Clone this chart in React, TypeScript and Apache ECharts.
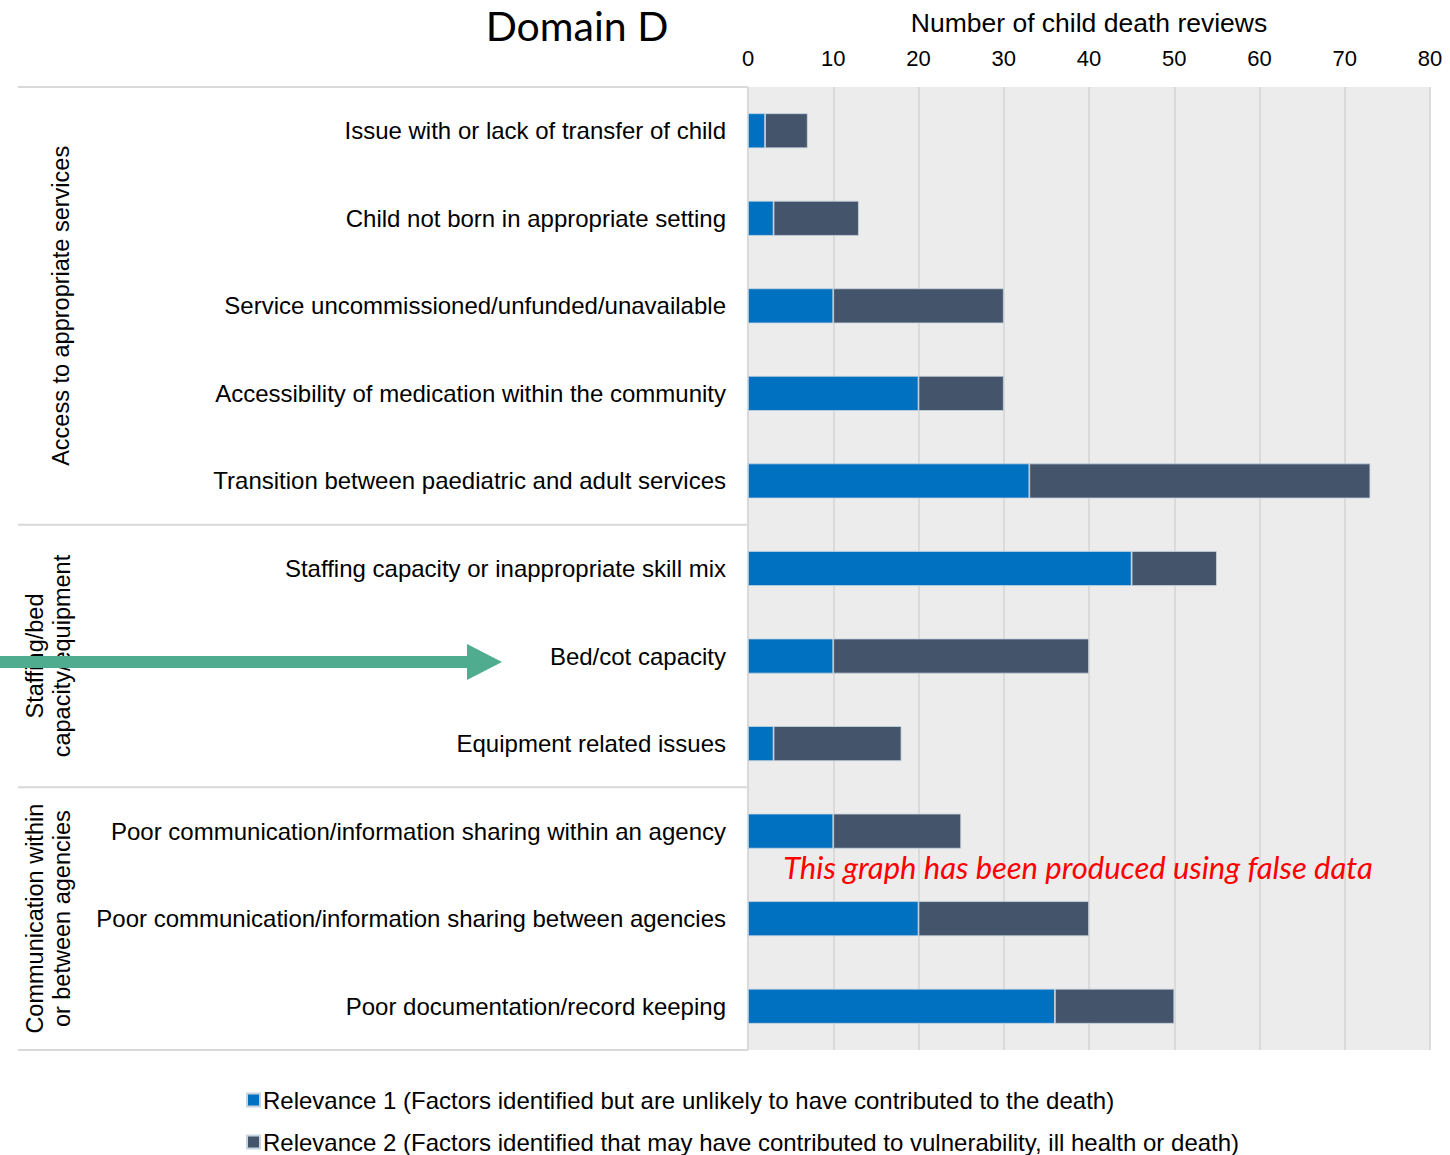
import React, { useEffect, useRef } from "react";
import * as echarts from "echarts";

const categories = [
  "Issue with or lack of transfer of child",
  "Child not born in appropriate setting",
  "Service uncommissioned/unfunded/unavailable",
  "Accessibility of medication within the community",
  "Transition between paediatric and adult services",
  "Staffing capacity or inappropriate skill mix",
  "Bed/cot capacity",
  "Equipment related issues",
  "Poor communication/information sharing within an agency",
  "Poor communication/information sharing between agencies",
  "Poor documentation/record keeping",
];
const relevance1 = [2, 3, 10, 20, 33, 45, 10, 3, 10, 20, 36];
const relevance2 = [5, 10, 20, 10, 40, 10, 30, 15, 15, 20, 14];
const seriesNames = [
  "Relevance 1 (Factors identified but are unlikely to have contributed to the death)",
  "Relevance 2 (Factors identified that may have contributed to vulnerability, ill health or death)",
];
const groups = [
  { label: "Access to appropriate services", start: 0, end: 5 },
  { label: "Staffing/bed\ncapacity/equipment", start: 5, end: 8 },
  { label: "Communication within\nor between agencies", start: 8, end: 11 },
];

export default function App() {
  const ref = useRef<HTMLDivElement>(null);
  useEffect(() => {
    if (!ref.current) return;
    const chart = echarts.init(ref.current, null, { renderer: "svg" });
    const top = 87;
    const bottom = 1050;
    const band = (bottom - top) / categories.length;
    const sans = '"Liberation Sans", Arial, sans-serif';
    const graphics: any[] = [];
    [0, 5, 8, 11].forEach((i) => {
      const y = top + i * band;
      graphics.push({
        type: "line",
        shape: { x1: 18, y1: y, x2: 748, y2: y },
        style: { stroke: "#d9d9d9", lineWidth: 2 },
        z: 1,
      });
    });
    graphics.push({
      type: "line",
      shape: { x1: 748, y1: top, x2: 748, y2: bottom },
      style: { stroke: "#d9d9d9", lineWidth: 1.5 },
      z: 1,
    });
    groups.forEach((g) => {
      const cy = top + ((g.start + g.end) / 2) * band;
      const twoLine = g.label.includes("\n");
      graphics.push({
        type: "text",
        x: twoLine ? 48 : 61,
        y: cy,
        rotation: Math.PI / 2,
        style: {
          text: g.label,
          font: "23.5px " + sans,
          fill: "#000",
          align: "center",
          verticalAlign: "middle",
          lineHeight: 27,
        },
        z: 5,
      });
    });
    graphics.push({
      type: "group",
      z: 20,
      children: [
        {
          type: "rect",
          shape: { x: 0, y: 656, width: 470, height: 12 },
          style: { fill: "#4fac8f" },
          z: 20,
        },
        {
          type: "polygon",
          shape: { points: [[467, 644], [502, 662], [467, 680]] },
          style: { fill: "#4fac8f" },
          z: 20,
        },
      ],
    });
    graphics.push({
      type: "text",
      x: 1078,
      y: 867,
      style: {
        text: "This graph has been produced using false data",
        font: 'italic 31px Lato, "Open Sans", sans-serif',
        fill: "#ff0000",
        align: "center",
        verticalAlign: "middle",
      },
      z: 10,
    });
    graphics.push({
      type: "text",
      x: 577,
      y: 25,
      style: {
        text: "Domain D",
        font: '41px Lato, "Open Sans", sans-serif',
        fill: "#000",
        align: "center",
        verticalAlign: "middle",
      },
      z: 10,
    });

    const legendText = {
      fontSize: 24,
      fontFamily: sans,
      color: "#000",
      padding: [0, 0, 0, -2],
    };

    chart.setOption({
      animation: false,
      backgroundColor: "#fff",
      grid: {
        left: 748,
        right: 20,
        top: top,
        bottom: 1155 - bottom,
        show: true,
        backgroundColor: "#ececec",
        borderWidth: 0,
        outerBoundsMode: "none",
        containLabel: false,
      },
      legend: [
        {
          left: 241,
          top: 1083,
          itemWidth: 13,
          itemHeight: 13,
          icon: "rect",
          textStyle: legendText,
          data: [seriesNames[0]],
        },
        {
          left: 241,
          top: 1125,
          itemWidth: 13,
          itemHeight: 13,
          icon: "rect",
          textStyle: legendText,
          data: [seriesNames[1]],
        },
      ],
      xAxis: {
        type: "value",
        position: "top",
        min: 0,
        max: 80,
        interval: 10,
        name: "Number of child death reviews",
        nameLocation: "middle",
        nameGap: 51,
        nameTextStyle: {
          fontSize: 26.5,
          fontFamily: '"Liberation Sans Narrow", ' + sans,
          color: "#000",
        },
        axisLabel: {
          fontSize: 22,
          fontFamily: '"Liberation Sans Narrow", ' + sans,
          color: "#000",
          margin: 18,
        },
        axisLine: { show: false },
        axisTick: { show: false },
        splitLine: { lineStyle: { color: "#d4d4d4", width: 1.5 } },
      },
      yAxis: {
        type: "category",
        inverse: true,
        data: categories,
        axisLabel: {
          fontSize: 24,
          fontFamily: sans,
          color: "#000",
          margin: 22,
        },
        axisLine: { show: false },
        axisTick: { show: false },
      },
      series: [
        {
          name: seriesNames[0],
          type: "bar",
          stack: "total",
          barWidth: 35,
          data: relevance1,
          itemStyle: { color: "#0070c0", borderColor: "#c8d4e0", borderWidth: 0.8 },
        },
        {
          name: seriesNames[1],
          type: "bar",
          stack: "total",
          barWidth: 35,
          data: relevance2,
          itemStyle: { color: "#44546a", borderColor: "#c8d4e0", borderWidth: 0.8 },
        },
      ],
      graphic: graphics,
    });
    return () => chart.dispose();
  }, []);
  return (
    <div
      ref={ref}
      style={{ position: "absolute", left: 0, top: 0, width: 1450, height: 1155 }}
    />
  );
}
